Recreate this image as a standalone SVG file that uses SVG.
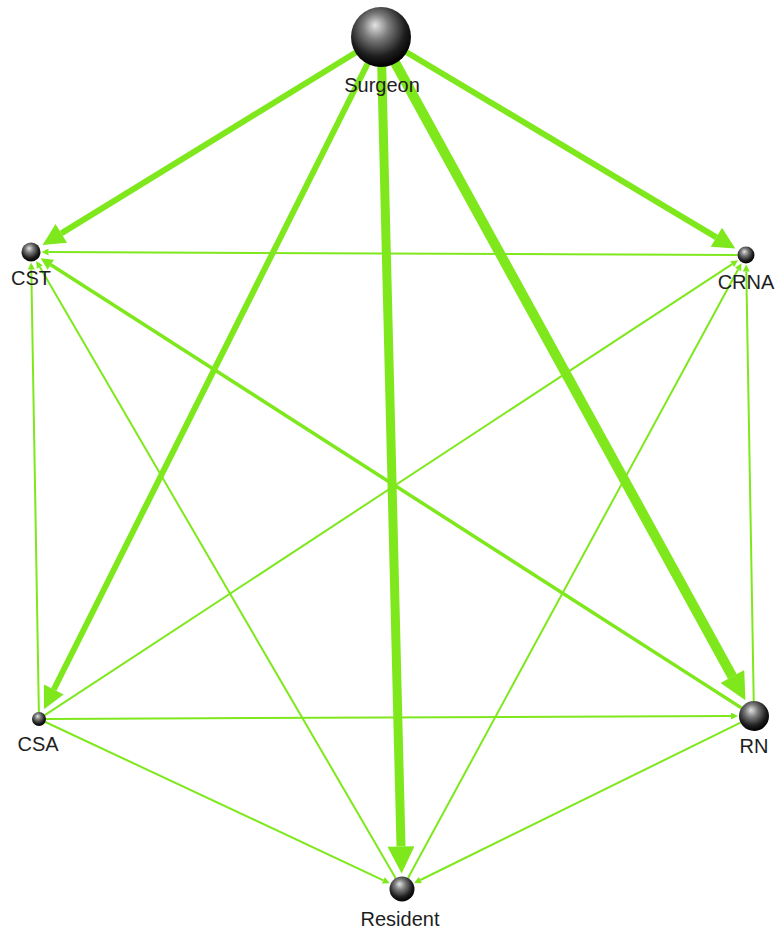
<svg xmlns="http://www.w3.org/2000/svg" width="778" height="932" viewBox="0 0 778 932">
<style>
.e{stroke:#7ee81c;fill:none;stroke-linecap:butt}
.t{stroke-width:2;marker-end:url(#sm)}
.lbl{font-family:"Liberation Sans",Arial,sans-serif;font-size:20px;fill:#1e1e1e;text-anchor:middle}
.ball{fill:url(#g)}
</style>
<defs>
<radialGradient id="g" cx="0.45" cy="0.38" r="0.62" fx="0.4" fy="0.3">
<stop offset="0" stop-color="#e4e4e4"/>
<stop offset="0.35" stop-color="#7a7a7a"/>
<stop offset="0.75" stop-color="#1e1e1e"/>
<stop offset="1" stop-color="#000"/>
</radialGradient>
<marker id="big" viewBox="0 0 10 10" refX="0" refY="5" markerUnits="userSpaceOnUse" markerWidth="26" markerHeight="22" orient="auto"><path d="M0,0L10,5L0,10z" fill="#7ee81c"/></marker>
<marker id="huge" viewBox="0 0 10 10" refX="0" refY="5" markerUnits="userSpaceOnUse" markerWidth="30" markerHeight="27" orient="auto"><path d="M0,0L10,5L0,10z" fill="#7ee81c"/></marker>
<marker id="mid" viewBox="0 0 10 10" refX="0" refY="5" markerUnits="userSpaceOnUse" markerWidth="14" markerHeight="12" orient="auto"><path d="M0,0L10,5L0,10z" fill="#7ee81c"/></marker>
<marker id="sm" viewBox="0 0 10 10" refX="0" refY="5" markerUnits="userSpaceOnUse" markerWidth="8" markerHeight="7" orient="auto"><path d="M0,0L10,5L0,10z" fill="#7ee81c"/></marker>
</defs>
<g id="connectors">
<line class="e t" x1="737.5" y1="254.96" x2="48.5" y2="252.1"/>
<line class="e" stroke-width="3.5" marker-end="url(#mid)" x1="741.4" y1="707.9" x2="50.8" y2="264.7"/>
<line class="e t" x1="38.88" y1="712" x2="31.3" y2="269.5"/>
<line class="e t" x1="395.7" y1="878.2" x2="39.8" y2="267.1"/>
<line class="e t" x1="44.85" y1="715.2" x2="732.2" y2="264.1"/>
<line class="e t" x1="408" y1="878" x2="738.1" y2="269.5"/>
<line class="e t" x1="753.74" y1="701" x2="746.29" y2="271.5"/>
<line class="e t" x1="46" y1="718.97" x2="731" y2="716.1"/>
<line class="e t" x1="45.3" y1="722" x2="383.4" y2="880.3"/>
<line class="e t" x1="740.5" y1="722.6" x2="420.4" y2="880"/>
<line class="e" stroke-width="6" marker-end="url(#big)" x1="381" y1="37" x2="61.3" y2="233.4"/>
<line class="e" stroke-width="6" marker-end="url(#big)" x1="381" y1="37" x2="716.4" y2="237.3"/>
<line class="e" stroke-width="6" marker-end="url(#big)" x1="381" y1="37" x2="53.8" y2="689.5"/>
<line class="e" stroke-width="9" marker-end="url(#huge)" x1="381" y1="37" x2="401" y2="846.5"/>
<line class="e" stroke-width="10" marker-end="url(#huge)" x1="381" y1="37" x2="732.4" y2="676.6"/>
</g>
<g id="Surgeon"><circle class="ball" cx="381" cy="37" r="30"/><text class="lbl" x="382" y="92">Surgeon</text></g>
<g id="CST"><circle class="ball" cx="31" cy="252" r="9.5"/><text class="lbl" x="31" y="285">CST</text></g>
<g id="CRNA"><circle class="ball" cx="746" cy="255" r="8.5"/><text class="lbl" x="746" y="289">CRNA</text></g>
<g id="CSA"><circle class="ball" cx="39" cy="719" r="7"/><text class="lbl" x="38" y="751">CSA</text></g>
<g id="RN"><circle class="ball" cx="754" cy="716" r="15"/><text class="lbl" x="754" y="753">RN</text></g>
<g id="Resident"><circle class="ball" cx="402" cy="889" r="12.5"/><text class="lbl" x="400" y="926">Resident</text></g>
</svg>
